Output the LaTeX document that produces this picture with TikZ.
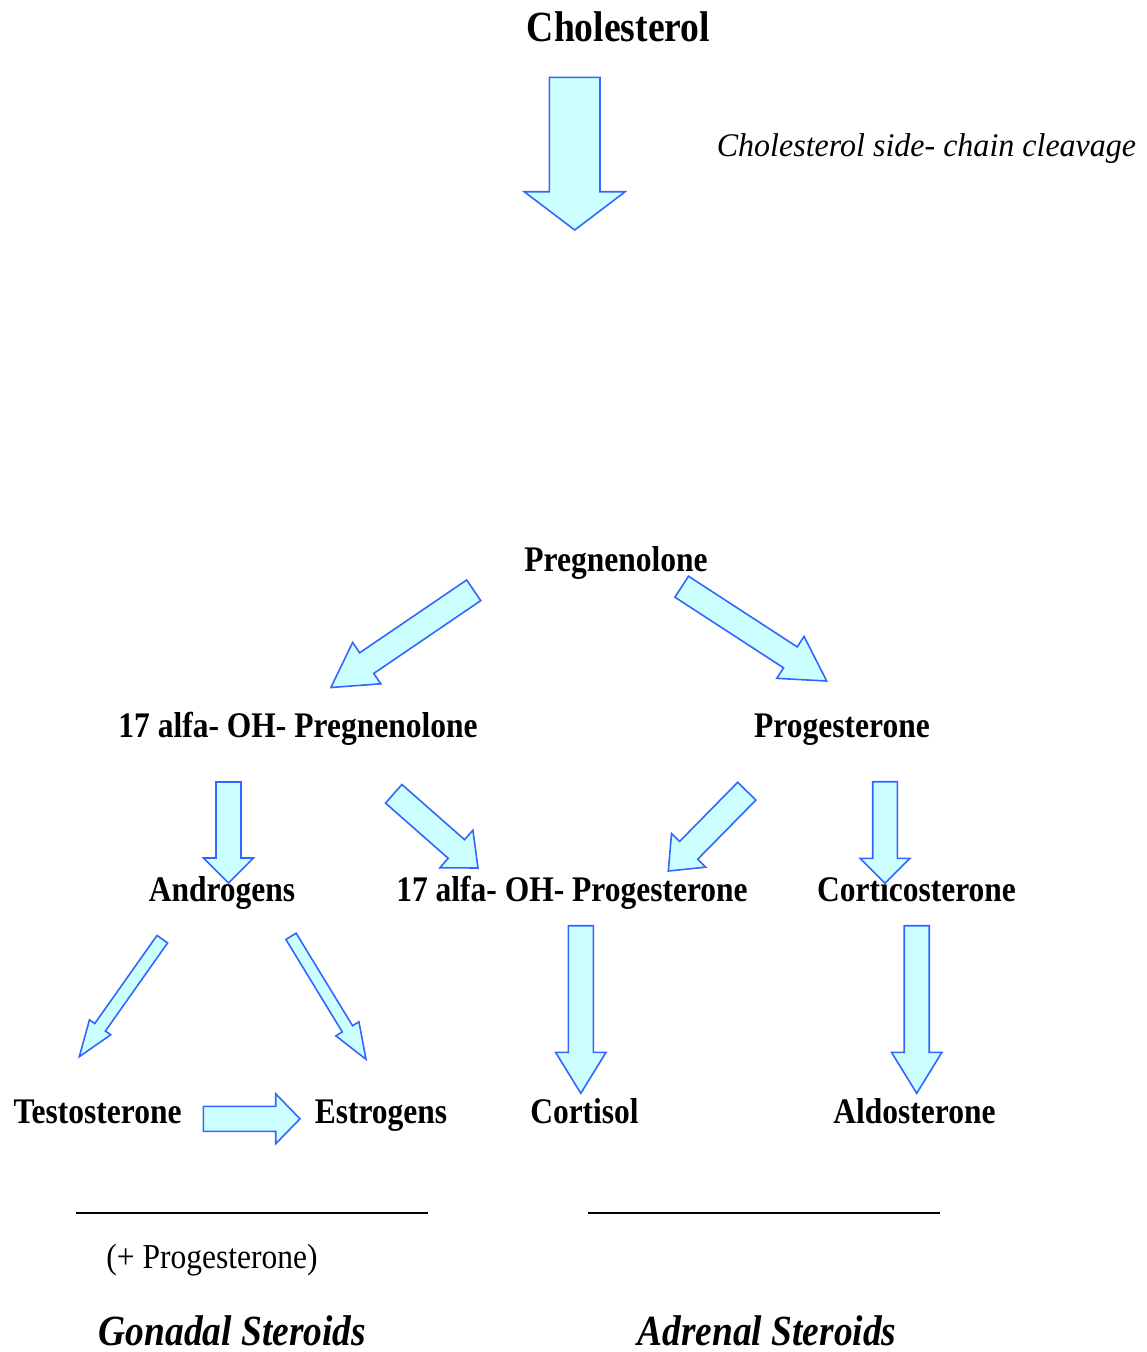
\documentclass[tikz,border=0pt]{standalone}
\usepackage{fontspec}
\setmainfont{Liberation Serif}
\usepackage{graphicx}
\usetikzlibrary{calc}
\definecolor{arrowblue}{HTML}{3366FF}
\definecolor{arrowfill}{HTML}{CCFFFF}
\tikzset{
  barrowstyle/.style={draw=arrowblue, fill=arrowfill, line width=1.6pt, line join=miter},
  lbl/.style={anchor=base, inner sep=0pt, font=\fontsize{36}{40}\selectfont\bfseries},
  titlelbl/.style={anchor=base, inner sep=0pt, font=\fontsize{43}{48}\selectfont\bfseries},
  enzlbl/.style={anchor=base, inner sep=0pt, font=\fontsize{33}{38}\selectfont\itshape},
  notelbl/.style={anchor=base, inner sep=0pt, font=\fontsize{35}{40}\selectfont},
  grouplbl/.style={anchor=base, inner sep=0pt, font=\fontsize{43}{48}\selectfont\bfseries\itshape},
  rule/.style={draw=black, line width=1.6pt}
}
\newcommand\sq[2]{\scalebox{#1}[1]{#2}}
% #1 start, #2 tip, #3 shaft half width, #4 head half width, #5 head length
\newcommand\blockarrow[5]{%
  \coordinate (bah) at ($(#2)!#5!(#1)$);
  \draw[barrowstyle] ($(#1)!#3!90:(#2)$) -- ($(bah)!#3!90:(#2)$) -- ($(bah)!#4!90:(#2)$)
    -- (#2) -- ($(bah)!#4!-90:(#2)$) -- ($(bah)!#3!-90:(#2)$) -- ($(#1)!#3!-90:(#2)$) -- cycle;}
\begin{document}
\begin{tikzpicture}[x=1pt, y=-1pt]
\useasboundingbox (0,0) rectangle (1146,1352);

% labels
\node[titlelbl] (chol) at (618.5,41) {\sq{0.875}{Cholesterol}};
\node[enzlbl] (scc) at (926.5,156) {\sq{0.97}{Cholesterol side- chain cleavage}};
\node[lbl] (preg) at (616,571) {\sq{0.875}{Pregnenolone}};
\node[lbl] (ohpreg) at (298,737) {\sq{0.875}{17 alfa- OH- Pregnenolone}};
\node[lbl] (prog) at (842,737) {\sq{0.875}{Progesterone}};
\node[lbl] (andr) at (222,901) {\sq{0.875}{Androgens}};
\node[lbl] (ohprog) at (572,901) {\sq{0.875}{17 alfa- OH- Progesterone}};
\node[lbl] (cort) at (916.5,901) {\sq{0.875}{Corticosterone}};
\node[lbl] (test) at (97.5,1123) {\sq{0.875}{Testosterone}};
\node[lbl] (estr) at (381,1123) {\sq{0.875}{Estrogens}};
\node[lbl] (cortisol) at (584.5,1123) {\sq{0.875}{Cortisol}};
\node[lbl] (aldo) at (914.5,1123) {\sq{0.875}{Aldosterone}};
\node[notelbl] (plusprog) at (212,1268) {\sq{0.9}{(+ Progesterone)}};
\node[grouplbl] (gonadal) at (232.5,1345) {\sq{0.87}{Gonadal Steroids}};
\node[grouplbl] (adrenal) at (767,1345) {\sq{0.87}{Adrenal Steroids}};

% arrow end points
\coordinate (a1s) at (574.7,77.3);  \coordinate (a1t) at (574.7,230);
\coordinate (a2s) at (473.7,590.3); \coordinate (a2t) at (330.9,687.5);
\coordinate (a3s) at (681.7,586.7); \coordinate (a3t) at (826.7,681);
\coordinate (a4s) at (228.5,782);   \coordinate (a4t) at (228.5,883);
\coordinate (a5s) at (393.7,793.8); \coordinate (a5t) at (478,868);
\coordinate (a6s) at (746.8,791.2); \coordinate (a6t) at (668.3,871);
\coordinate (a7s) at (885,781.7);   \coordinate (a7t) at (885,883.3);
\coordinate (a8s) at (162.3,939.2); \coordinate (a8t) at (79.3,1056.7);
\coordinate (a9s) at (291,936.3);   \coordinate (a9t) at (366,1059.3);
\coordinate (a10s) at (203.3,1118.8); \coordinate (a10t) at (300,1118.8);
\coordinate (a11s) at (580.8,925.7); \coordinate (a11t) at (580.8,1093.3);
\coordinate (a12s) at (916.7,925.7); \coordinate (a12t) at (916.7,1093.3);

\blockarrow{a1s}{a1t}{25.3pt}{50.5pt}{38.3pt}
\blockarrow{a2s}{a2t}{12.5pt}{25pt}{43.3pt}
\blockarrow{a3s}{a3t}{12.5pt}{25pt}{43.3pt}
\blockarrow{a4s}{a4t}{12.5pt}{25pt}{25pt}
\blockarrow{a5s}{a5t}{12.4pt}{25pt}{28.8pt}
\blockarrow{a6s}{a6t}{12.7pt}{24pt}{29pt}
\blockarrow{a7s}{a7t}{12.3pt}{25pt}{25pt}
\blockarrow{a8s}{a8t}{6.5pt}{13pt}{36pt}
\blockarrow{a9s}{a9t}{6pt}{13.5pt}{35.7pt}
\blockarrow{a10s}{a10t}{12.5pt}{25pt}{24.3pt}
\blockarrow{a11s}{a11t}{12.5pt}{25.2pt}{41pt}
\blockarrow{a12s}{a12t}{12.5pt}{25.2pt}{41pt}

% group rules
\coordinate (r1a) at (76,1213); \coordinate (r1b) at (428,1213);
\coordinate (r2a) at (588,1213); \coordinate (r2b) at (940,1213);
\draw[rule] (r1a) -- (r1b);
\draw[rule] (r2a) -- (r2b);
\end{tikzpicture}
\end{document}
